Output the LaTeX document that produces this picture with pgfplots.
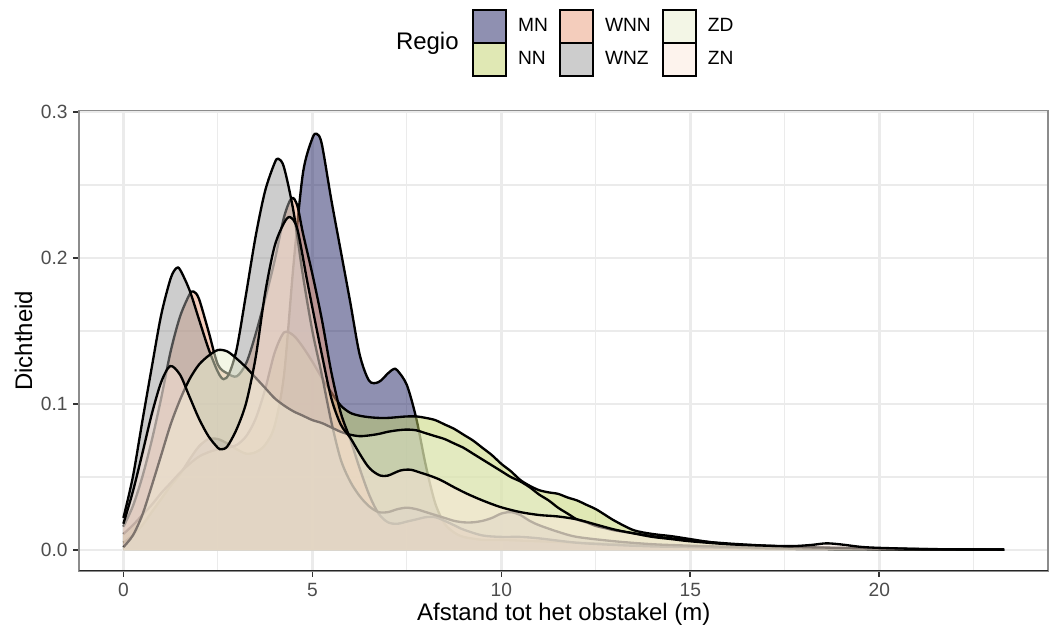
\documentclass[border=0pt]{standalone}
\usepackage{fontspec}
\setmainfont{Liberation Sans}
\usepackage{pgfplots}
\usepackage{pgfplotstable}
\pgfplotsset{compat=1.18}

% fill colours (drawn at 50% opacity)
\definecolor{cMN}{RGB}{31,33,99}
\definecolor{cNN}{RGB}{193,209,105}
\definecolor{cWNN}{RGB}{233,155,121}
\definecolor{cWNZ}{RGB}{155,155,155}
\definecolor{cZD}{RGB}{231,237,205}
\definecolor{cZN}{RGB}{251,231,219}
\definecolor{gridc}{RGB}{235,235,235}
\definecolor{framec}{RGB}{140,140,140}
\definecolor{tickc}{RGB}{51,51,51}
\definecolor{labc}{RGB}{77,77,77}

% kernel density estimates per region
\pgfplotstableread{
x y
0 0.005
0.25 0.010
0.5 0.017
0.75 0.026
1.0 0.035
1.25 0.044
1.5 0.052
1.75 0.062
2.0 0.071
2.25 0.076
2.5 0.076
2.75 0.073
3.0 0.069
3.25 0.066
3.5 0.067
3.75 0.072
4.0 0.085
4.25 0.120
4.5 0.195
4.75 0.258
5.0 0.282
5.12 0.285
5.25 0.278
5.5 0.240
5.75 0.205
6.0 0.170
6.25 0.134
6.5 0.116
6.75 0.115
7.0 0.121
7.15 0.124
7.25 0.123
7.5 0.113
7.75 0.090
8.0 0.058
8.25 0.032
8.5 0.018
8.75 0.012
9.0 0.009
9.5 0.007
10.0 0.007
10.5 0.0065
11 0.006
12 0.005
13 0.004
14 0.003
15 0.0025
16 0.002
17 0.0016
18 0.0014
19 0.001
20 0.0008
21 0.0006
22 0.0004
23.3 0.0003
}\tabMN

\pgfplotstableread{
x y
0 0.011
0.25 0.017
0.5 0.024
0.75 0.031
1.0 0.039
1.25 0.046
1.5 0.053
1.75 0.059
2.0 0.064
2.25 0.067
2.5 0.069
2.75 0.070
3.0 0.072
3.25 0.078
3.5 0.090
3.75 0.110
4.0 0.135
4.25 0.149
4.5 0.147
4.75 0.139
5.0 0.129
5.25 0.118
5.5 0.108
5.75 0.099
6.0 0.094
6.25 0.092
6.5 0.091
6.75 0.0905
7.0 0.0905
7.25 0.091
7.5 0.0915
7.75 0.0915
8.0 0.0905
8.25 0.089
8.5 0.086
8.75 0.083
9.0 0.079
9.25 0.075
9.5 0.070
9.75 0.065
10.0 0.059
10.25 0.054
10.5 0.048
10.75 0.044
11.0 0.041
11.25 0.0395
11.5 0.0385
11.75 0.036
12.0 0.034
12.25 0.031
12.5 0.028
12.75 0.024
13.0 0.020
13.5 0.0136
14.0 0.011
14.5 0.0095
15.0 0.0075
15.5 0.0055
16.0 0.004
17.0 0.0025
18 0.0018
19 0.0012
20 0.0008
21 0.0005
22 0.0003
23.3 0.0002
}\tabNN

\pgfplotstableread{
x y
0 0.016
0.25 0.030
0.5 0.050
0.75 0.075
1.0 0.104
1.25 0.136
1.5 0.160
1.75 0.175
1.86 0.177
2.0 0.172
2.25 0.150
2.5 0.127
2.75 0.121
3.0 0.119
3.25 0.128
3.5 0.148
3.75 0.172
4.0 0.198
4.25 0.228
4.45 0.241
4.6 0.236
4.75 0.217
5.0 0.189
5.25 0.158
5.5 0.122
5.75 0.094
6.0 0.076
6.25 0.056
6.5 0.038
6.75 0.025
7.0 0.019
7.25 0.018
7.5 0.0195
7.75 0.021
8.0 0.0225
8.25 0.0225
8.5 0.020
8.75 0.017
9.0 0.014
9.5 0.010
10.0 0.009
10.5 0.009
11 0.008
12 0.005
13 0.0035
14 0.0025
15 0.002
16 0.0015
17 0.001
18 0.0008
19 0.0006
20 0.0005
21 0.0004
22 0.0003
23.3 0.0002
}\tabWNN

\pgfplotstableread{
x y
0 0.022
0.25 0.050
0.5 0.088
0.75 0.125
1.0 0.161
1.25 0.186
1.4 0.193
1.5 0.192
1.75 0.178
2.0 0.158
2.25 0.138
2.5 0.122
2.65 0.117
2.8 0.121
3.0 0.138
3.25 0.176
3.5 0.215
3.75 0.246
4.0 0.265
4.1 0.268
4.25 0.262
4.5 0.232
4.75 0.188
5.0 0.150
5.25 0.120
5.5 0.088
5.75 0.062
6.0 0.047
6.25 0.037
6.5 0.030
6.75 0.026
7.0 0.026
7.25 0.028
7.5 0.029
7.75 0.028
8.0 0.026
8.25 0.024
8.5 0.022
8.75 0.020
9.0 0.019
9.25 0.019
9.5 0.020
9.75 0.022
10.0 0.025
10.25 0.026
10.5 0.024
10.75 0.020
11.0 0.017
11.5 0.0125
12 0.009
13 0.006
14 0.004
15 0.003
16 0.0022
17 0.0015
18 0.001
19 0.0008
20 0.0006
21 0.0004
22 0.0003
23.3 0.0002
}\tabWNZ

\pgfplotstableread{
x y
0 0.002
0.25 0.010
0.5 0.024
0.75 0.044
1.0 0.065
1.25 0.086
1.5 0.103
1.75 0.117
2.0 0.127
2.25 0.133
2.5 0.137
2.75 0.136
3.0 0.131
3.25 0.125
3.5 0.118
3.75 0.111
4.0 0.104
4.25 0.099
4.5 0.095
4.75 0.092
5.0 0.089
5.25 0.087
5.5 0.084
5.75 0.081
6.0 0.079
6.25 0.078
6.5 0.0785
6.75 0.0795
7.0 0.081
7.25 0.082
7.5 0.0825
7.75 0.082
8.0 0.080
8.25 0.078
8.5 0.076
8.75 0.073
9.0 0.070
9.25 0.066
9.5 0.062
9.75 0.058
10.0 0.054
10.25 0.050
10.5 0.047
10.75 0.043
11.0 0.038
11.25 0.034
11.5 0.029
11.75 0.025
12.0 0.021
12.25 0.019
12.5 0.0165
12.75 0.015
13.0 0.0135
13.5 0.0115
14.0 0.0095
14.5 0.008
15.0 0.0066
16 0.0045
17 0.003
18 0.002
19 0.0015
20 0.001
21 0.0007
22 0.0004
23.3 0.0002
}\tabZD

\pgfplotstableread{
x y
0 0.018
0.25 0.040
0.5 0.066
0.75 0.093
1.0 0.115
1.24 0.126
1.5 0.120
1.75 0.105
2.0 0.090
2.25 0.078
2.5 0.070
2.6 0.069
2.75 0.071
3.0 0.083
3.25 0.101
3.5 0.132
3.75 0.176
4.0 0.208
4.25 0.224
4.41 0.228
4.6 0.220
4.85 0.186
5.0 0.166
5.25 0.134
5.5 0.104
5.75 0.086
6.0 0.077
6.25 0.066
6.45 0.058
6.6 0.054
6.8 0.051
7.0 0.051
7.33 0.0545
7.6 0.055
7.86 0.053
8.1 0.051
8.39 0.048
8.75 0.043
9.08 0.0387
9.5 0.034
9.97 0.0295
10.5 0.026
11.0 0.024
11.5 0.023
12.0 0.021
12.5 0.0175
13.0 0.014
13.5 0.0114
14.0 0.009
14.5 0.0075
15.0 0.006
16.0 0.004
17.0 0.003
17.7 0.0027
18.2 0.0035
18.6 0.0046
19.0 0.0038
19.5 0.0022
20.0 0.0015
21.0 0.0008
22.0 0.0005
23.3 0.0003
}\tabZN

\newcommand{\density}[2]{%
  \addplot[fill=#2, fill opacity=0.5, draw=none, smooth, forget plot]
    table[x=x,y=y]{#1} \closedcycle;
  \addplot[black, line width=1.07pt, line join=round, smooth, forget plot]
    table[x=x,y=y]{#1};
}

\begin{document}
\begin{tikzpicture}
\path[use as bounding box] (-36.4pt,-28.0pt) rectangle (447.1pt,261.9pt);
\begin{axis}[
  scale only axis,
  width=444.4pt, height=211.2pt,
  xmin=-1.165, xmax=24.465,
  ymin=-0.0143, ymax=0.301,
  xtick={0,5,10,15,20},
  xticklabels={0,5,10,15,20},
  ytick={0,0.1,0.2,0.3},
  yticklabels={0.0,0.1,0.2,0.3},
  minor xtick={2.5,7.5,12.5,17.5,22.5},
  minor ytick={0.05,0.15,0.25},
  tick pos=left,
  grid=both,
  major grid style={draw=gridc, line width=1.07pt},
  minor grid style={draw=gridc, line width=0.53pt},
  tick align=outside,
  major tick length=2.75pt,
  minor tick length=0pt,
  tick style={draw=tickc, line width=0.8pt},
  axis line style={draw=framec, line width=0.8pt},
  /pgf/number format/assume math mode=true,
  ticklabel style={font=\fontsize{8.8}{10}\selectfont, text=labc},
  xticklabel style={inner sep=0pt, anchor=north, yshift=-2.65pt},
  yticklabel style={inner sep=0pt, anchor=east, xshift=-2.45pt},
  xlabel={Afstand tot het obstakel (m)},
  ylabel={Dichtheid},
  label style={font=\fontsize{11}{13}\selectfont},
  xlabel style={at={(axis description cs:0.5,-0.107)}, anchor=base, inner sep=0pt},
  ylabel style={at={(axis description cs:-0.0488,0.5)}, anchor=base, rotate=0, inner sep=0pt},
  legend columns=3,
  legend cell align=left,
  legend image code/.code={\draw[#1] (0pt,-7.55pt) rectangle (15.1pt,7.55pt);},
  legend style={at={(axis description cs:0.4053,1.2206)}, anchor=north west,
    draw=none, fill=none, inner sep=0pt, outer sep=0pt,
    row sep=-1.07pt, column sep=5pt,
    font=\fontsize{8.8}{10}\selectfont,
    nodes={inner sep=0pt, text=black}},
]
% legend keys, listed row by row
\addlegendimage{fill=cMN, fill opacity=0.5, draw=black, line width=1.07pt}
\addlegendentry{MN}
\addlegendimage{fill=cWNN, fill opacity=0.5, draw=black, line width=1.07pt}
\addlegendentry{WNN}
\addlegendimage{fill=cZD, fill opacity=0.5, draw=black, line width=1.07pt}
\addlegendentry{ZD}
\addlegendimage{fill=cNN, fill opacity=0.5, draw=black, line width=1.07pt}
\addlegendentry{NN}
\addlegendimage{fill=cWNZ, fill opacity=0.5, draw=black, line width=1.07pt}
\addlegendentry{WNZ}
\addlegendimage{fill=cZN, fill opacity=0.5, draw=black, line width=1.07pt}
\addlegendentry{ZN}

% densities, drawn in alphabetical order
\density{\tabMN}{cMN}
\density{\tabNN}{cNN}
\density{\tabWNN}{cWNN}
\density{\tabWNZ}{cWNZ}
\density{\tabZD}{cZD}
\density{\tabZN}{cZN}

\draw[black!85, line width=1.07pt] (rel axis cs:0,0) -- (rel axis cs:1,0);
\end{axis}
\node[anchor=base east, inner sep=0pt, font=\fontsize{11}{13}\selectfont]
  at (174.2pt,239.0pt) {Regio};
\end{tikzpicture}
\end{document}
